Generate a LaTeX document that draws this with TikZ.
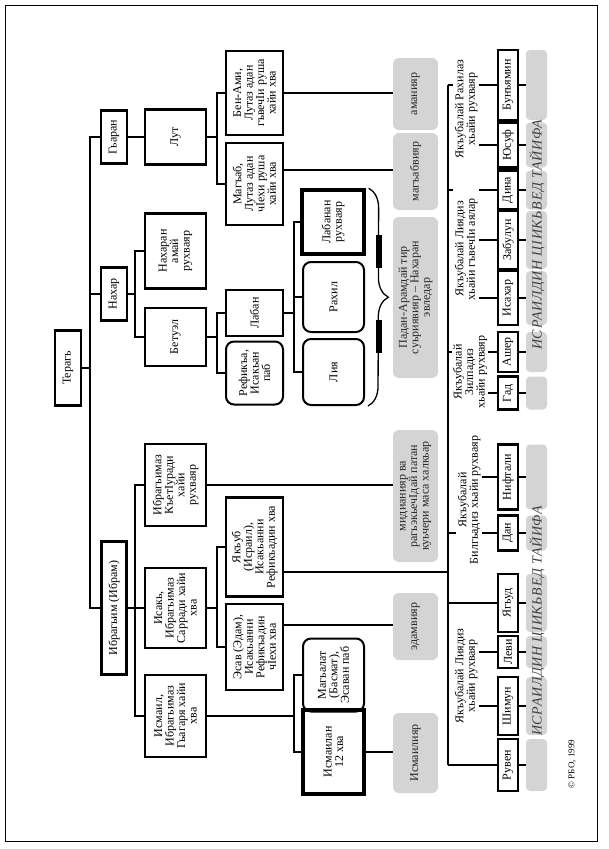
\documentclass[tikz,border=0pt]{standalone}
\usepackage{fontspec}
\setmainfont{Liberation Serif}
\usetikzlibrary{calc,decorations.pathreplacing}
\tikzset{
  wh/.style 2 args={minimum height=#1pt, minimum width=#2pt},
  box/.style={draw, line width=2.4pt, rotate=90, align=center, inner sep=1pt, font=\fontsize{12}{11.5}\selectfont},
  rbox/.style={box, line width=2pt, rounded corners=8pt},
  tbox/.style={box, line width=3.4pt},
  gbox/.style={fill=black!17, rounded corners=6pt, rotate=90, align=center, inner sep=1pt, text=black!85, minimum height=45pt, font=\fontsize{12}{11.5}\selectfont},
  kid/.style={box, minimum height=20pt},
  strip/.style={fill=black!17, rounded corners=4pt, rotate=90, minimum height=21pt, inner sep=0pt},
  grp/.style={rotate=90, align=center, inner sep=1pt, font=\fontsize{12}{11.5}\selectfont},
  tribe/.style={rotate=90, text=black!75, font=\fontsize{14}{14}\itshape\addfontfeature{LetterSpace=5}},
  conn/.style={line width=1.8pt}
}
\begin{document}
\begin{tikzpicture}[x=1pt, y=-1pt]
\useasboundingbox (0,0) rectangle (608,849);
\draw[line width=0.8pt] (5,5) rectangle (597,841);

\node[box, wh={26}{75}] (ter) at (68,368) {Терагь};
\node[box, wh={26}{53}] (gha) at (114,137) {Гьаран};
\node[box, wh={26}{53}] (nah) at (114,294) {Нахар};
\node[box, wh={25}{133}] (ibr) at (114,608) {Ибрагьим (Ибрам)};

\node[box, wh={61}{55}] (lut) at (175.5,137) {Лут};
\node[box, wh={61}{75}] (nar) at (175.5,251) {Нахаран\\амай\\рухваяр};
\node[box, wh={61}{58}] (bet) at (175.5,337) {Бетуэл};
\node[box, wh={61}{82}] (ike) at (175.5,485) {Ибрагьимаз\\КъетIуради\\хайи\\рухваяр};
\node[box, wh={61}{80}] (isk) at (175.5,608) {Исакь,\\Ибрагьимаз\\Сарради хайи\\хва};
\node[box, wh={61}{82}] (ism) at (175.5,716) {Исмаил,\\Ибрагьимаз\\Гьагаря хайи\\хва};

\node[box, wh={57}{84}] (ben) at (254.5,93) {Бен-Ами,\\Лутаз адан\\гъвечIи руша\\хайи хва};
\node[box, wh={57}{82}] (mag) at (254.5,184) {Магъаб,\\Лутаз адан\\чIехи руша\\хайи хва};
\node[box, wh={57}{46}] (lab) at (254.5,313) {Лабан};
\node[rbox, wh={57}{63}] (ref) at (254.5,373) {Рефикъа,\\Исакьан\\паб};
\node[box, wh={57}{99}] (jac) at (254.5,547) {Якъуб\\(Исраил),\\Исакьанни\\Рефикъадин хва};
\node[box, wh={57}{86}] (esa) at (254.5,647) {Эсав (Эдам),\\Исакьанни\\Рефикъадин\\чIехи хва};

\node[tbox, wh={62}{64}] (lbs) at (333,222) {Лабанан\\рухваяр};
\node[rbox, wh={61}{70}] (rah) at (333.5,297) {Рахил};
\node[rbox, wh={61}{66}] (lia) at (333.5,372) {Лия};
\node[rbox, wh={61}{73}] (mah) at (333.5,675) {Магьалат\\(Басмат),\\Эсаван паб};
\node[tbox, wh={61}{84}] (isv) at (333.5,752) {Исмаилан\\12 хва};

\node[gbox, minimum width=72pt] (amm) at (415.5,94) {аманияр};
\node[gbox, minimum width=77pt] (mgb) at (415.5,171.5) {магъабвияр};
\node[gbox, minimum width=161pt] (pad) at (415.5,297.5) {Падан-Арамдай тир\\суьриявияр – Нахаран\\эвледар};
\node[gbox, minimum width=132pt] (mid) at (415.5,496) {мидианияр ва\\рагьэкьечIдай патан\\куьчери маса халкьар};
\node[gbox, minimum width=67pt] (edm) at (415.5,626.5) {эдамвияр};
\node[gbox, minimum width=80pt] (isl) at (415.5,753) {Исмаилияр};

\node[grp] (gr) at (466,109) {Якъубалай Рахилаз\\хьайи рухваяр};
\node[grp] (gl1) at (466,249) {Якъубалай Лиядиз\\хьайи гъвечIи аялар};
\node[grp] (gz) at (470,372) {Якъубалай\\Зилпадиз\\хьайи рухваяр};
\node[grp] (gb) at (469,500) {Якъубалай\\Билгьадиз хьайи рухваяр};
\node[grp] (gl2) at (466,676) {Якъубалай Лиядиз\\хьайи рухваяр};

\node[kid, minimum width=70pt] (bun) at (508,85) {Бунъямин};
\node[kid, minimum width=45pt] (yus) at (508,145) {Юсуф};
\node[kid, minimum width=39pt] (din) at (508,190) {Дина};
\node[kid, minimum width=58pt] (zeb) at (508,240) {Забулун};
\node[kid, minimum width=54pt] (isa) at (508,298) {Исахар};
\node[kid, minimum width=40pt] (ash) at (508,352) {Ашер};
\node[kid, minimum width=33pt] (gad) at (508,393) {Гад};
\node[kid, minimum width=65pt] (nif) at (508,477) {Нифтали};
\node[kid, minimum width=35pt] (dan) at (508,533) {Дан};
\node[kid, minimum width=58pt] (yah) at (508,603) {Ягьуд};
\node[kid, minimum width=32pt] (lev) at (508,652) {Леви};
\node[kid, minimum width=58pt] (shi) at (508,706) {Шимун};
\node[kid, minimum width=52pt] (ruv) at (508,765) {Рувен};

\node[strip, minimum width=70pt] (sbun) at (536.5,85) {};
\node[strip, minimum width=45pt] (syus) at (536.5,145) {};
\node[strip, minimum width=39pt] (sdin) at (536.5,190) {};
\node[strip, minimum width=58pt] (szeb) at (536.5,240) {};
\node[strip, minimum width=54pt] (sisa) at (536.5,298) {};
\node[strip, minimum width=40pt] (sash) at (536.5,352) {};
\node[strip, minimum width=33pt] (sgad) at (536.5,393) {};
\node[strip, minimum width=65pt] (snif) at (536.5,477) {};
\node[strip, minimum width=35pt] (sdan) at (536.5,533) {};
\node[strip, minimum width=58pt] (syah) at (536.5,603) {};
\node[strip, minimum width=32pt] (slev) at (536.5,652) {};
\node[strip, minimum width=58pt] (sshi) at (536.5,706) {};
\node[strip, minimum width=52pt] (sruv) at (536.5,765) {};

\node[tribe] (tr1) at (537,235) {ИСРАИЛДИН ЦIИКЬВЕД ТАЙИФА};
\node[tribe] (tr2) at (537,621) {ИСРАИЛДИН ЦIИКЬВЕД ТАЙИФА};
\node[rotate=90, font=\fontsize{9}{9}\selectfont] (cr) at (572,764) {© РБО, 1999};

\draw[conn] (gha.north) -| ([xshift=8pt]ter.south) -- (ter.south);
\draw[conn] (nah.north) -| ([xshift=8pt]ter.south);
\draw[conn] (ibr.north) -| ([xshift=8pt]ter.south);
\draw[conn] (gha) -- (lut);
\draw[conn] (nar.north) -| ([xshift=7pt]nah.south) -- (nah.south);
\draw[conn] (bet.north) -| ([xshift=7pt]nah.south);
\draw[conn] (ike.north) -| ([xshift=7.5pt]ibr.south) -- (ibr.south);
\draw[conn] (isk.north) -| ([xshift=7.5pt]ibr.south);
\draw[conn] (ism.north) -| ([xshift=7.5pt]ibr.south);
\draw[conn] (ben.north) -| ([xshift=10pt]lut.south) -- (lut.south);
\draw[conn] (mag.north) -| ([xshift=10pt]lut.south);
\draw[conn] (lab.north) -| ([xshift=10pt]bet.south) -- (bet.south);
\draw[conn] (ref.north) -| ([xshift=10pt]bet.south);
\draw[conn] (jac.north) -| ([xshift=10pt]isk.south) -- (isk.south);
\draw[conn] (esa.north) -| ([xshift=10pt]isk.south);
\draw[conn] (lbs.north) -| ([xshift=10pt]lab.south) -- (lab.south);
\draw[conn] (rah.north) -| ([xshift=10pt]lab.south);
\draw[conn] (lia.north) -| ([xshift=10pt]lab.south);
\draw[conn] (mah.north) -| ([xshift=87pt]ism.south) -- (ism.south);
\draw[conn] (isv.north) -| ([xshift=87pt]ism.south);

\draw[conn] (ben.south) -- (ben.south -| amm.north);
\draw[conn] ([yshift=14pt]mag.south) -- ([yshift=14pt]mag.south -| mgb.north);
\draw[conn] (ike.south) -- (ike.south -| mid.north);
\draw[conn] ([yshift=22pt]esa.south) -- ([yshift=22pt]esa.south -| edm.north);
\draw[conn] (isv.south) -- (isv.south -| isl.north);

\coordinate (bt) at (448,85);
\coordinate (bb) at (448,765);
\draw[conn] (bt) -- (bb);
\draw[conn] ([yshift=-25pt]jac.south) -- ([yshift=-25pt]jac.south -| bt);
\draw[conn] (bt) -- (gr.north |- bt);
\draw[conn] (gr.south |- bun) -- (bun);
\draw[conn] (gr.south |- yus) -- (yus);
\draw[conn] (bt |- din) -- (gl1.north |- din);
\draw[conn] (gl1.south |- din) -- (din);
\draw[conn] (gl1.south |- zeb) -- (zeb);
\draw[conn] (gl1.south |- isa) -- (isa);
\draw[conn] (bt |- ash) -- (gz.north |- ash);
\draw[conn] (gz.south |- ash) -- (ash);
\draw[conn] (gz.south |- gad) -- (gad);
\draw[conn] (bt |- dan) -- (gb.north |- dan);
\draw[conn] (gb.south |- nif) -- (nif);
\draw[conn] (gb.south |- dan) -- (dan);
\draw[conn] (bt |- yah) -- (yah);
\draw[conn] (gl2.south |- lev) -- (lev);
\draw[conn] (gl2.south |- shi) -- (shi);
\draw[conn] (bb) -- (ruv);

\draw[conn] (bun) -- (sbun);
\draw[conn] (yus) -- (syus);
\draw[conn] (din) -- (sdin);
\draw[conn] (zeb) -- (szeb);
\draw[conn] (isa) -- (sisa);
\draw[conn] (ash) -- (sash);
\draw[conn] (gad) -- (sgad);
\draw[conn] (nif) -- (snif);
\draw[conn] (dan) -- (sdan);
\draw[conn] (yah) -- (syah);
\draw[conn] (lev) -- (slev);
\draw[conn] (shi) -- (sshi);
\draw[conn] (ruv) -- (sruv);

\coordinate (bra) at ([xshift=3pt]lbs.south east);
\coordinate (brb) at ([xshift=3pt]lia.south west);
\draw[line width=1.3pt, decorate, decoration={brace, amplitude=20pt}] (bra) -- (brb);
\draw[line width=6pt] ($(bra)+(10,47)$) -- ($(bra)+(10,80)$);
\draw[line width=6pt] ($(bra)+(10,132)$) -- ($(bra)+(10,165)$);
\end{tikzpicture}
\end{document}
